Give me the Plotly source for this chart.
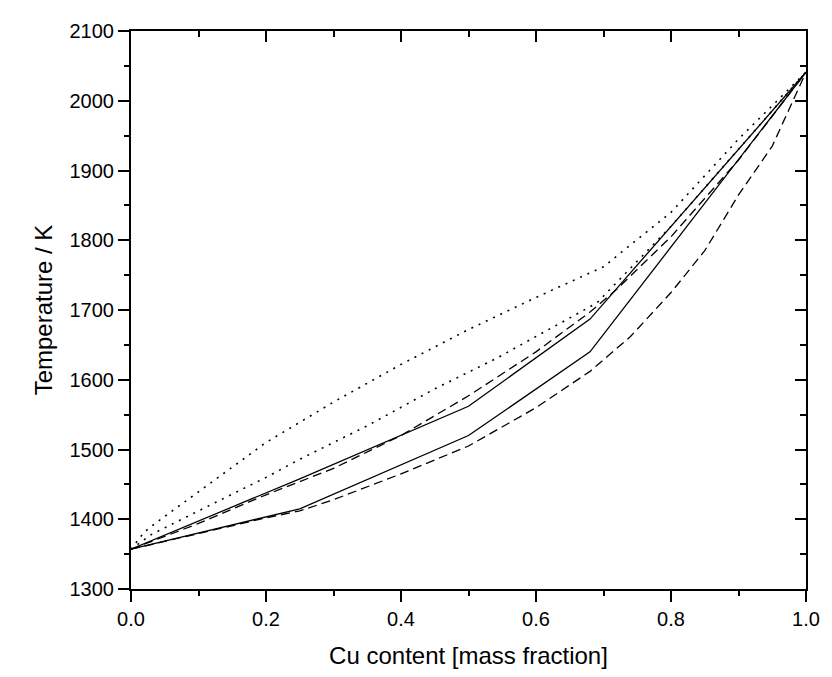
import plotly.graph_objects as go

# ---- data ----
x_solid_low = [0.0, 0.25, 0.5, 0.68, 1.0]
t_solid_low = [1357, 1415, 1520, 1640, 2041]

x_solid_up = [0.0, 0.25, 0.5, 0.68, 1.0]
t_solid_up = [1357, 1458, 1562, 1687, 2041]

x_dash_low = [0.0, 0.1, 0.2, 0.25, 0.3, 0.4, 0.5, 0.6, 0.68, 0.74, 0.8, 0.85, 0.9, 0.95, 1.0]
t_dash_low = [1357, 1380, 1402, 1412, 1428, 1465, 1505, 1560, 1612, 1662, 1725, 1785, 1865, 1935, 2041]

x_dash_up = [0.0, 0.1, 0.2, 0.25, 0.3, 0.4, 0.5, 0.6, 0.68, 0.72, 0.8, 0.9, 1.0]
t_dash_up = [1357, 1394, 1435, 1454, 1473, 1520, 1577, 1640, 1697, 1730, 1805, 1915, 2041]

x_dot_up = [0.0, 0.02, 0.04, 0.2, 0.3, 0.4, 0.5, 0.6, 0.7, 0.8, 0.9, 1.0]
t_dot_up = [1357, 1382, 1397, 1510, 1568, 1622, 1672, 1718, 1762, 1840, 1945, 2041]

x_dot_low = [0.0, 0.03, 0.1, 0.2, 0.25, 0.35, 0.45, 0.54, 0.6, 0.69, 0.8, 0.9, 1.0]
t_dot_low = [1357, 1378, 1412, 1460, 1486, 1534, 1587, 1630, 1662, 1710, 1820, 1930, 2041]

x_ticks = [0.0, 0.2, 0.4, 0.6, 0.8, 1.0]
x_ticklabels = ["0.0", "0.2", "0.4", "0.6", "0.8", "1.0"]
y_ticks = [1300, 1400, 1500, 1600, 1700, 1800, 1900, 2000, 2100]

FONT = "Arial, Liberation Sans, sans-serif"
LW = 1.3
DOT = "2px,6px"
DASH = "9px,5px"

fig = go.Figure()
series = [
    (x_dot_up, t_dot_up, DOT, 1.6),
    (x_dot_low, t_dot_low, DOT, 1.6),
    (x_dash_up, t_dash_up, DASH, LW),
    (x_dash_low, t_dash_low, DASH, LW),
    (x_solid_up, t_solid_up, "solid", LW),
    (x_solid_low, t_solid_low, "solid", LW),
]
for xs, ts, d, w in series:
    fig.add_trace(go.Scatter(x=xs, y=ts, mode="lines",
                             line=dict(color="black", width=w, dash=d),
                             showlegend=False, hoverinfo="skip"))

# invisible trace to activate the mirror axes
fig.add_trace(go.Scatter(x=[0], y=[1300], xaxis="x2", yaxis="y2", mode="markers",
                         marker=dict(opacity=0), showlegend=False, hoverinfo="skip"))

axis_common = dict(showgrid=False, zeroline=False, showline=True, linecolor="black",
                   linewidth=2, tickcolor="black", tickwidth=2)

# page body has an 8px default margin, so the figure is 8px smaller
fig.update_layout(
    width=824, height=669,
    margin=dict(l=123, r=17, t=13, b=88),
    paper_bgcolor="white", plot_bgcolor="white",
    font=dict(family=FONT, color="black", size=20),
    xaxis=dict(range=[0, 1.0], tickvals=x_ticks, ticktext=x_ticklabels,
               ticks="outside", ticklen=11,
               minor=dict(dtick=0.1, ticks="outside", ticklen=5, tickwidth=2, tickcolor="black"),
               tickfont=dict(size=20, family=FONT),
               title=dict(text="Cu content [mass fraction]", font=dict(size=24, family=FONT), standoff=18),
               **axis_common),
    yaxis=dict(range=[1300, 2100], tickvals=y_ticks,
               ticks="outside", ticklen=11,
               minor=dict(dtick=50, ticks="outside", ticklen=5, tickwidth=2, tickcolor="black"),
               tickfont=dict(size=20, family=FONT),
               title=dict(text="Temperature / K", font=dict(size=24, family=FONT), standoff=10),
               **axis_common),
    xaxis2=dict(range=[0, 1.0], overlaying="x", side="top", tickvals=x_ticks,
                showticklabels=False, ticks="inside", ticklen=11,
                minor=dict(dtick=0.1, ticks="inside", ticklen=6, tickwidth=2, tickcolor="black"),
                **axis_common),
    yaxis2=dict(range=[1300, 2100], overlaying="y", side="right", tickvals=y_ticks,
                showticklabels=False, ticks="inside", ticklen=11,
                minor=dict(dtick=50, ticks="inside", ticklen=6, tickwidth=2, tickcolor="black"),
                **axis_common),
)

fig.write_html("out.html")
